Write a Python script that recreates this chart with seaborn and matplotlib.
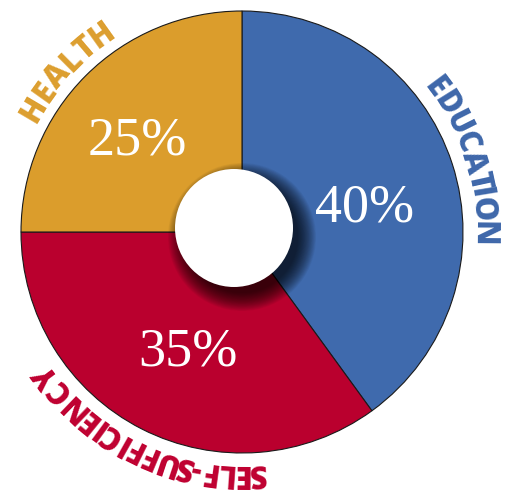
import numpy as np
import matplotlib
matplotlib.use("Agg")
import matplotlib.pyplot as plt
import seaborn as sns
from matplotlib.patches import Circle
from matplotlib.font_manager import FontProperties
from matplotlib.textpath import TextToPath

sns.set_theme(style="white")

# data
categories = ["EDUCATION", "SELF-SUFFICIENCY", "HEALTH"]
shares = [40, 35, 25]
colors = ["#3f6aad", "#ba002e", "#db9d2c"]
label_colors = ["#3e67aa", "#bf0030", "#dc9e2e"]

W, H = 510, 491
fig = plt.figure(figsize=(W / 100, H / 100), dpi=100)
ax = fig.add_axes([0, 0, 1, 1])

cx, cy, R = 242, H - 232, 221

wedges, _ = ax.pie(shares, colors=colors, startangle=90, counterclock=False,
                   center=(cx, cy), radius=R, frame=True,
                   wedgeprops=dict(edgecolor="#1a1a1a", linewidth=0.8))
ax.set_xlim(0, W)
ax.set_ylim(0, H)
ax.set_aspect("equal")
ax.axis("off")

# soft shadow behind the hole (falls to the lower right)
hx, hy, hr = 234, H - 228, 59
for r in np.linspace(74, 56, 24):
    ax.add_patch(Circle((hx + 8, hy - 9), r, color="black", alpha=0.045, lw=0, zorder=3))
ax.add_patch(Circle((hx, hy), hr, color="white", lw=0, zorder=4))

# percent labels inside slices
pct_pos = [(365, 208), (188, 352), (137, 141)]
for v, (px, py) in zip(shares, pct_pos):
    ax.text(px, H - py, f"{v}%", color="white", fontsize=39,
            family="Liberation Serif", ha="center", va="center", zorder=5)

# curved category labels along the outside
prop = FontProperties(family="Open Sans", weight="heavy", size=22)
t2p = TextToPath()


def char_w(s):
    w, _, _ = t2p.get_text_width_height_descent(s, prop, ismath=False)
    return w * 100 / 72


def arc_text(s, a_first, a_last, r_base, color):
    centers = []
    for i, ch in enumerate(s):
        centers.append(char_w(s[:i]) + char_w(ch) / 2)
    c0, c1 = centers[0], centers[-1]
    for ch, c in zip(s, centers):
        a = a_first + (a_last - a_first) * (c - c0) / (c1 - c0)
        t = np.radians(a)
        x = cx + r_base * np.cos(t)
        y = cy + r_base * np.sin(t)
        ax.text(x, y, ch, fontproperties=prop, color=color, rotation=a - 90,
                rotation_mode="anchor", ha="center", va="baseline", zorder=5)


arc_spans = [(36.6, -0.5), (-86.5, -143.4), (149.5, 125.5)]
for name, (a0, a1), col in zip(categories, arc_spans, label_colors):
    arc_text(name, a0, a1, 233, col)

fig.savefig("out.png", dpi=100)
